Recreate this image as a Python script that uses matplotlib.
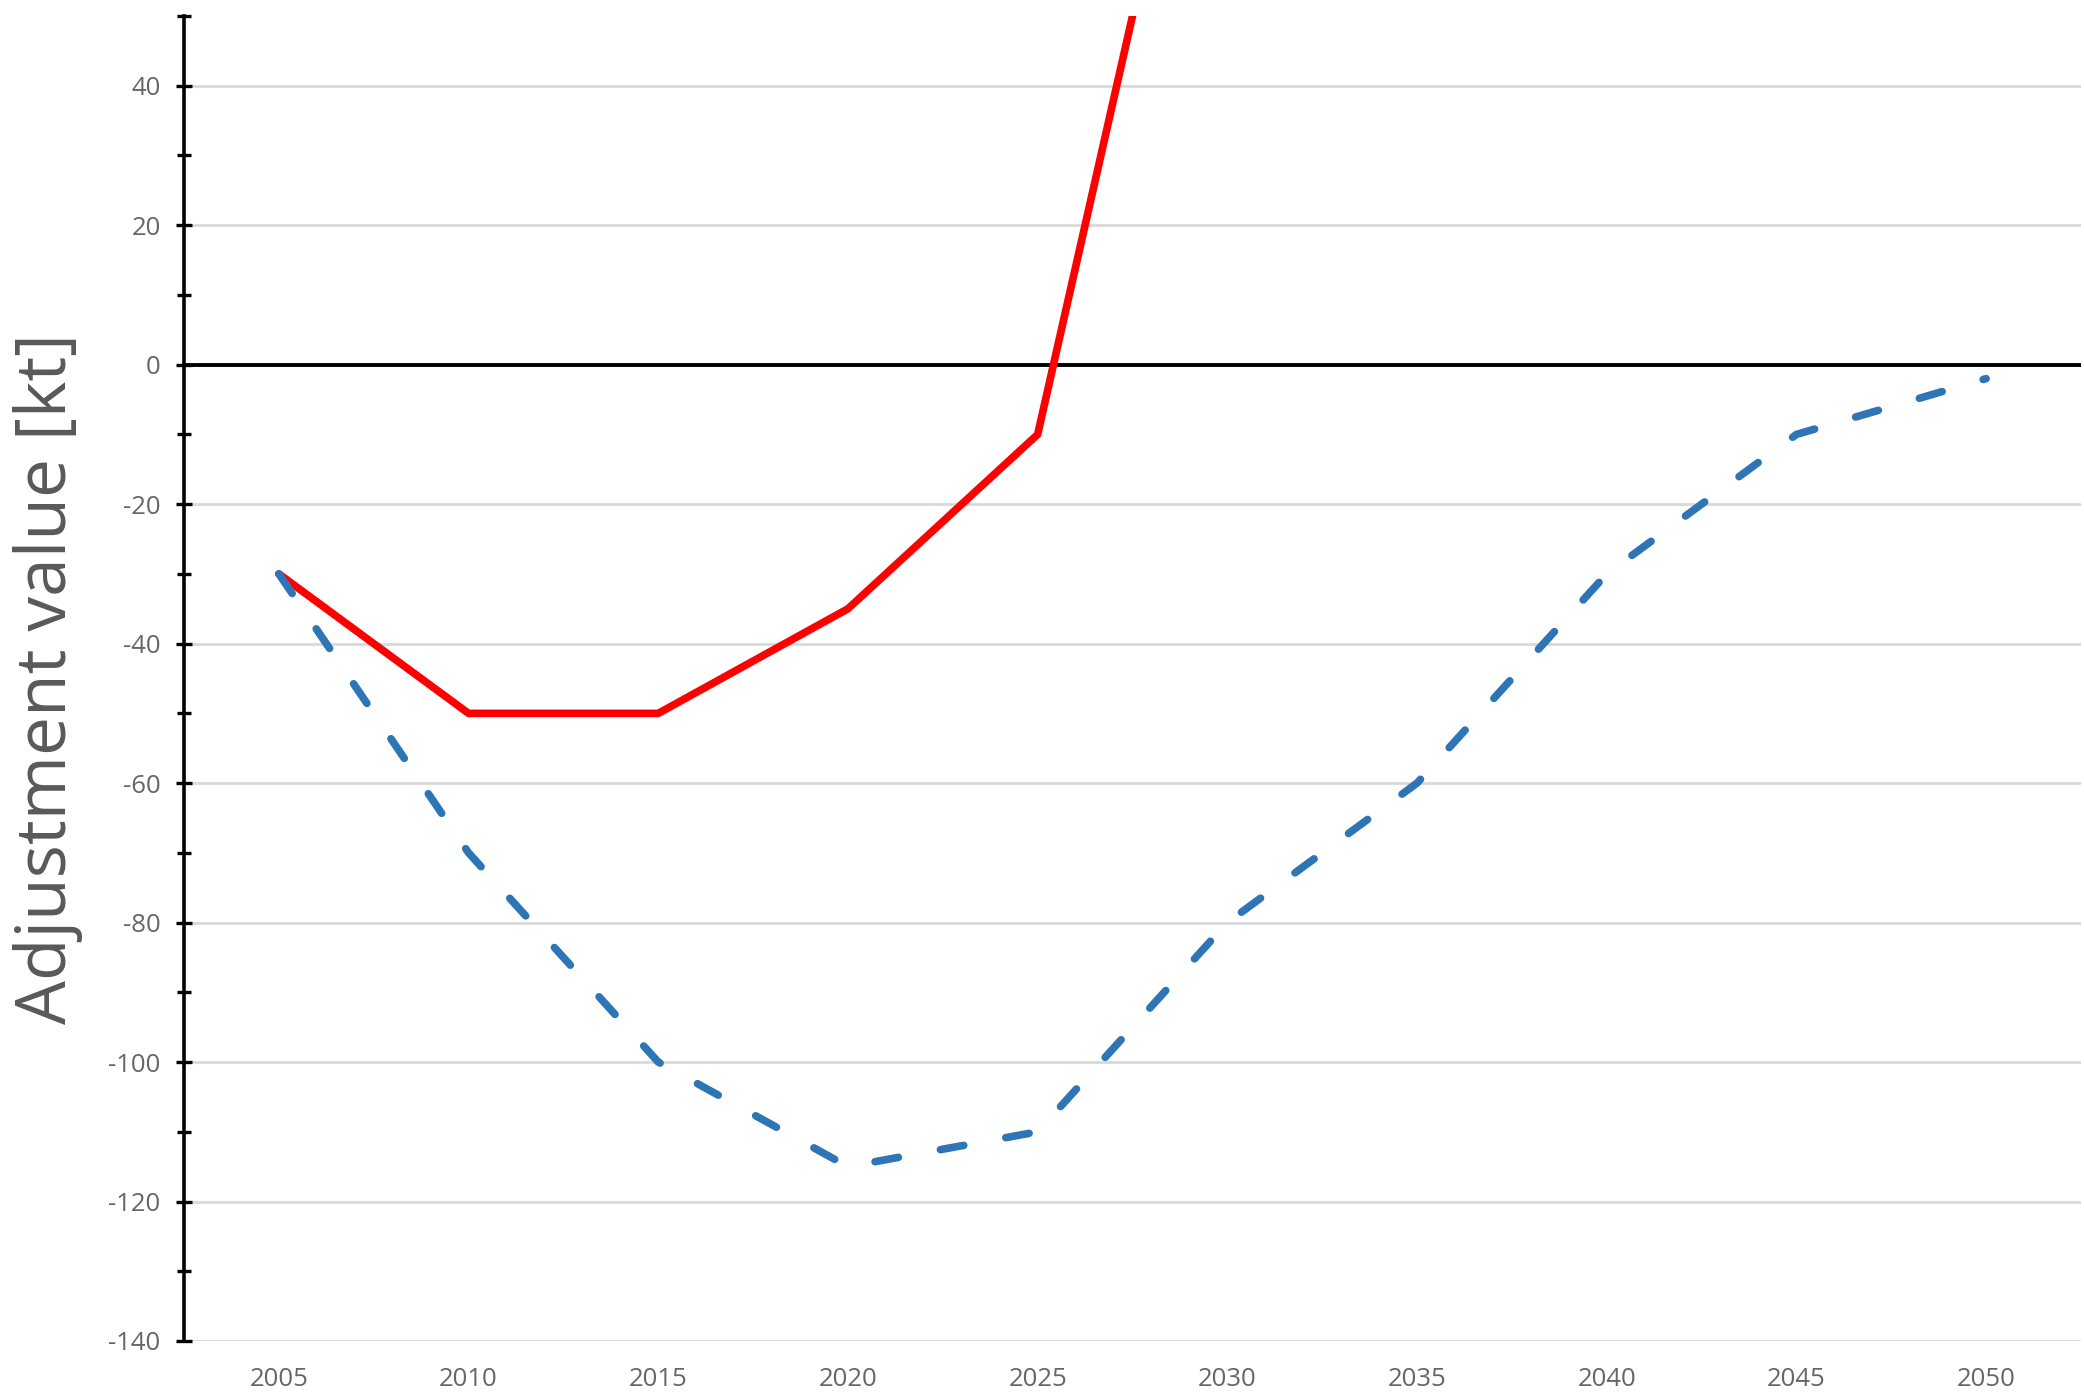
import matplotlib
matplotlib.use("Agg")
import matplotlib.pyplot as plt
from matplotlib.ticker import MultipleLocator

years = [2005, 2010, 2015, 2020, 2025, 2030, 2035, 2040, 2045, 2050]
red_years = [2005, 2010, 2015, 2020, 2025, 2030]
red_values = [-30, -50, -50, -35, -10, 110]
blue_values = [-30, -70, -100, -115, -110, -80, -60, -30, -10, -2]
y_ticks = [-140, -120, -100, -80, -60, -40, -20, 0, 20, 40]
y_label = "Adjustment value [kt]"

plt.rcParams['font.family'] = ['Open Sans', 'DejaVu Sans']
plt.rcParams['axes.unicode_minus'] = False

W, H = 2084, 1397
fig = plt.figure(figsize=(W / 100, H / 100), dpi=100)
ax = fig.add_axes([184 / W, 1 - 1341 / H, (2081 - 184) / W, (1341 - 16) / H])

ax.set_xlim(2002.5, 2052.5)
ax.set_ylim(-140, 50)

ax.yaxis.set_major_locator(MultipleLocator(20))
ax.yaxis.set_minor_locator(MultipleLocator(10))
ax.set_yticks(y_ticks)
ax.set_xticks(years)
ax.set_xticklabels([str(y) for y in years])

ax.grid(axis='y', which='major', color='#D9D9D9', linewidth=2.0, zorder=0)
ax.set_axisbelow(True)

for s in ['top', 'right', 'bottom']:
    ax.spines[s].set_visible(False)
ax.spines['left'].set_linewidth(2.6)
ax.spines['left'].set_color('black')
ax.spines['left'].set_zorder(5)

ax.axhline(0, color='black', linewidth=2.8, zorder=3)

ax.tick_params(axis='y', which='major', direction='inout', length=11.5, width=2.4,
               color='black', labelsize=18.5, labelcolor='#666666', pad=11)
ax.tick_params(axis='y', which='minor', direction='inout', length=10, width=2.4, color='black')
ax.tick_params(axis='x', which='both', length=0, labelsize=18.5, labelcolor='#666666', pad=19)

ax.plot(red_years, red_values, color='#FF0000', linewidth=5.5,
        solid_capstyle='round', solid_joinstyle='round', zorder=4)
ax.plot(years, blue_values, color='#2E75B6', linewidth=5.5,
        linestyle=(0, (3.1, 5.6)), dash_capstyle='round', zorder=4)

ax.set_ylabel(y_label, fontsize=50, color='#595959')
ax.yaxis.set_label_coords(-0.053, 0.5)

fig.savefig('out.png', dpi=100)
